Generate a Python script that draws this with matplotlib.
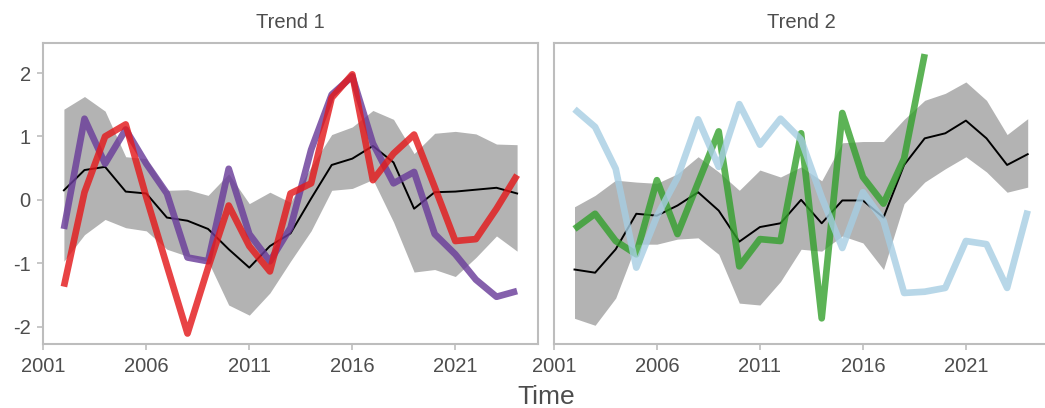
import matplotlib
matplotlib.use("Agg")
import matplotlib.pyplot as plt

years = list(range(2002, 2025))

# Trend 1
t1_mean = [0.15, 0.47, 0.52, 0.13, 0.10, -0.28, -0.33, -0.46, -0.78, -1.07, -0.73, -0.53,
           0.02, 0.55, 0.65, 0.85, 0.59, -0.14, 0.12, 0.13, 0.16, 0.19, 0.10]
t1_upper = [1.43, 1.63, 1.40, 0.68, 0.65, 0.15, 0.16, 0.07, 0.41, -0.06, 0.12, -0.04,
            0.52, 1.03, 1.15, 1.41, 1.27, 0.73, 1.05, 1.08, 1.04, 0.88, 0.87]
t1_lower = [-0.97, -0.55, -0.31, -0.44, -0.49, -0.78, -0.89, -0.97, -1.66, -1.82, -1.47, -0.97,
            -0.49, 0.15, 0.18, 0.32, -0.35, -1.14, -1.10, -1.21, -0.91, -0.57, -0.81]
t1_purple = [-0.46, 1.28, 0.57, 1.11, 0.57, 0.10, -0.91, -0.97, 0.49, -0.54, -0.97, -0.44,
             0.79, 1.66, 1.95, 0.89, 0.26, 0.44, -0.54, -0.86, -1.26, -1.53, -1.44]
t1_red = [-1.37, 0.12, 1.00, 1.19, 0.04, -1.04, -2.11, -1.07, -0.09, -0.73, -1.13, 0.10,
          0.26, 1.61, 1.98, 0.31, 0.73, 1.03, 0.20, -0.65, -0.62, -0.14, 0.39]

# Trend 2
t2_mean = [-1.10, -1.15, -0.78, -0.22, -0.25, -0.09, 0.12, -0.17, -0.66, -0.43, -0.37, 0.00,
           -0.37, -0.01, -0.01, -0.28, 0.55, 0.97, 1.05, 1.25, 0.97, 0.55, 0.72]
t2_upper = [-0.11, 0.07, 0.31, 0.28, 0.26, 0.41, 0.68, 0.44, 0.15, 0.47, 0.36, 0.52,
            0.30, 0.90, 0.92, 0.92, 1.27, 1.57, 1.68, 1.86, 1.57, 1.03, 1.28]
t2_lower = [-1.87, -1.98, -1.55, -0.70, -0.70, -0.62, -0.60, -0.86, -1.63, -1.66, -1.29, -0.78,
            -0.81, -0.57, -0.68, -1.10, -0.06, 0.28, 0.49, 0.68, 0.44, 0.12, 0.20]
green_years = list(range(2002, 2020))
t2_green = [-0.46, -0.22, -0.65, -0.86, 0.31, -0.54, 0.27, 1.08, -1.05, -0.62, -0.65, 1.05,
            -1.87, 1.37, 0.36, -0.06, 0.65, 2.30]
t2_blue = [1.43, 1.15, 0.49, -1.07, -0.26, 0.35, 1.27, 0.52, 1.51, 0.87, 1.28, 0.95,
           0.04, -0.76, 0.12, -0.33, -1.47, -1.45, -1.39, -0.65, -0.70, -1.39, -0.17]

titles = ["Trend 1", "Trend 2"]
x_ticks = [2001, 2006, 2011, 2016, 2021]
y_ticks = [-2, -1, 0, 1, 2]
y_labels = ["-2", "-1", "0", "1", "2"]

plt.rcParams['font.family'] = ['Liberation Sans', 'DejaVu Sans']
W, H = 1045, 408
fig = plt.figure(figsize=(W / 100, H / 100), dpi=100)

txt = '#4D4D4D'
frame = '#BDBDBD'
band = '#B3B3B3'

def px(x0, y_top, w, h):
    return [x0 / W, 1 - (y_top + h) / H, w / W, h / H]

ax1 = fig.add_axes(px(43.3, 43.3, 494.4, 301))
ax2 = fig.add_axes(px(553.9, 43.3, 494.4, 301))

def style(ax, show_y):
    ax.set_xlim(2001, 2025)
    ax.set_ylim(-2.28, 2.47)
    for s in ax.spines.values():
        s.set_color(frame)
        s.set_linewidth(1.5)
    ax.set_xticks(x_ticks)
    ax.set_xticklabels([str(t) for t in x_ticks])
    ax.tick_params(axis='x', colors=frame, labelcolor=txt, labelsize=14.5,
                   length=4.5, width=1.2, pad=5)
    if show_y:
        ax.set_yticks(y_ticks)
        ax.set_yticklabels(y_labels)
        ax.tick_params(axis='y', colors=frame, labelcolor=txt, labelsize=14.5,
                       length=4.5, width=1.2, pad=4.5)
    else:
        ax.set_yticks([])

lw = 4.8
ax1.fill_between(years, t1_lower, t1_upper, color=band, lw=0)
ax1.plot(years, t1_mean, color='black', lw=1.4)
ax1.plot(years, t1_purple, color='#6a3d9a', alpha=0.82, lw=lw,
         solid_joinstyle='round', solid_capstyle='butt')
ax1.plot(years, t1_red, color='#e31a1c', alpha=0.82, lw=lw,
         solid_joinstyle='round', solid_capstyle='butt')

ax2.fill_between(years, t2_lower, t2_upper, color=band, lw=0)
ax2.plot(years, t2_mean, color='black', lw=1.4)
ax2.plot(green_years, t2_green, color='#33a02c', alpha=0.8, lw=lw,
         solid_joinstyle='round', solid_capstyle='butt')
ax2.plot(years, t2_blue, color='#a6cee3', alpha=0.8, lw=lw,
         solid_joinstyle='round', solid_capstyle='butt')

style(ax1, True)
style(ax2, False)
ax2.spines['right'].set_visible(False)

fig.text((43.3 + 537.7) / 2 / W, 1 - 28 / H, titles[0], ha='center', va='baseline',
         fontsize=14.5, color=txt)
fig.text((553.9 + 1048.3) / 2 / W, 1 - 28 / H, titles[1], ha='center', va='baseline',
         fontsize=14.5, color=txt)
fig.text(546.5 / W, 1 - 404 / H, "Time", ha='center', va='baseline',
         fontsize=19, color=txt)

fig.savefig("out.png", dpi=100)
